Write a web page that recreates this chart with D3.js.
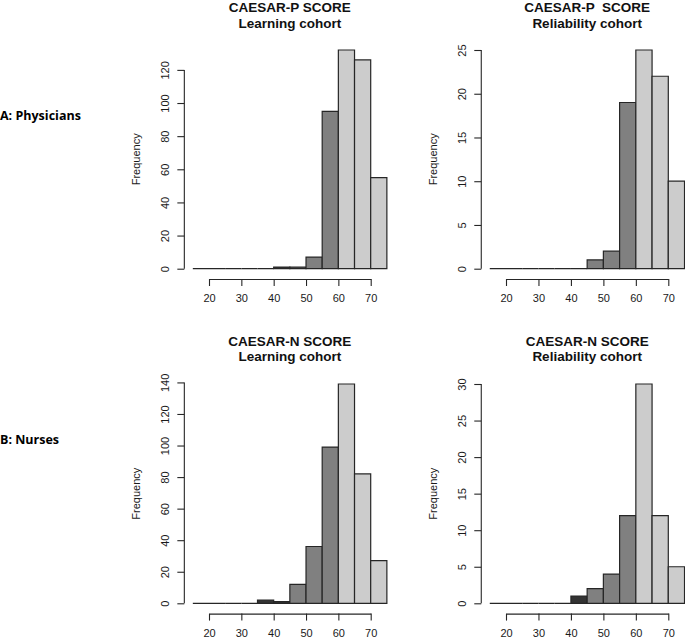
<!DOCTYPE html>
<html>
<head>
<meta charset="utf-8">
<script src="https://cdnjs.cloudflare.com/ajax/libs/d3/7.8.5/d3.min.js"></script>
<style>
  html, body { margin: 0; padding: 0; background: #fff; }
  svg { display: block; }
</style>
</head>
<body>
<svg id="chart" width="685" height="639"></svg>
<script>
// ---- data ----
const binEdges = [15, 20, 25, 30, 35, 40, 45, 50, 55, 60, 65, 70, 75];
const xTicks = [20, 30, 40, 50, 60, 70];
const physLearning    = [0, 0, 0, 0, 0, 1, 1, 7, 95, 132, 126, 55];
const physReliability = [0, 0, 0, 0, 0, 0, 1, 2, 19, 25, 22, 10];
const nurseLearning    = [0, 0, 0, 0, 2, 1, 12, 36, 99, 139, 82, 27];
const nurseReliability = [0, 0, 0, 0, 0, 1, 2, 4, 12, 30, 12, 5];
const titlesLine1 = ["CAESAR-P SCORE", "CAESAR-P  SCORE", "CAESAR-N SCORE", "CAESAR-N SCORE"];
const titlesLine2 = ["Learning cohort", "Reliability cohort", "Learning cohort", "Reliability cohort"];
const rowLabels = ["A: Physicians", "B: Nurses"];
const yTickSteps = [20, 5, 20, 5];
const yLabel = "Frequency";

// ---- layout ----
const svg = d3.select("#chart");
const colX = [[209, 370.7], [506, 668.3]];       // pixel of x=20 and x=70
const rowY = [[268.7, 50], [603.3, 384]];         // pixel of y=0 and y=max
const titleBase = [[12.3, 27.7], [345.5, 361]];
const rowLabelBase = [120, 444];

const darkFill = "#333333", midFill = "#808080", lightFill = "#cccccc";
function fillFor(start) {
  if (start < 45) return darkFill;
  if (start < 60) return midFill;
  return lightFill;
}

const panels = [
  { counts: physLearning, col: 0, row: 0 },
  { counts: physReliability, col: 1, row: 0 },
  { counts: nurseLearning, col: 0, row: 1 },
  { counts: nurseReliability, col: 1, row: 1 }
];

const stroke = "#262626";
const fontFam = "'Liberation Sans', Arial, Helvetica, sans-serif";

panels.forEach((p, i) => {
  const x = d3.scaleLinear().domain([20, 70]).range(colX[p.col]);
  const maxC = d3.max(p.counts);
  const y = d3.scaleLinear().domain([0, maxC]).range(rowY[p.row]);
  const g = svg.append("g");

  const bins = p.counts.map((c, k) => ({ x0: binEdges[k], x1: binEdges[k + 1], c }));

  g.selectAll("path.bar").data(bins).enter().append("path")
    .attr("class", "bar")
    .attr("d", d => `M${x(d.x0)},${y(0)}V${y(d.c)}H${x(d.x1)}V${y(0)}Z`)
    .attr("fill", d => fillFor(d.x0))
    .attr("stroke", stroke)
    .attr("stroke-width", 1.2);

  // x axis
  const xAxisY = y(0) + 10.3;
  const xa = g.append("g")
    .attr("transform", `translate(0,${xAxisY})`)
    .call(d3.axisBottom(x).tickValues(xTicks).tickSize(7).tickSizeOuter(0));
  xa.select(".domain").attr("stroke", stroke).attr("stroke-width", 1.1);
  xa.selectAll(".tick line").attr("stroke", stroke).attr("stroke-width", 1.1);
  xa.selectAll(".tick text")
    .attr("y", 23).attr("dy", 0)
    .attr("fill", "#1a1a1a")
    .style("font-family", fontFam).style("font-size", "11px");

  // y axis (ticks up to the 4%-extended range, as in R)
  const step = yTickSteps[i];
  const yTicks = d3.range(0, maxC * 1.04 + 0.001, step);
  const ya = g.append("g")
    .attr("transform", `translate(${x(15) - 8.5},0)`)
    .call(d3.axisLeft(y).tickValues(yTicks).tickSize(7));
  ya.select(".domain").remove();
  ya.append("line")
    .attr("x1", 0).attr("x2", 0)
    .attr("y1", y(0)).attr("y2", y(yTicks[yTicks.length - 1]))
    .attr("stroke", stroke).attr("stroke-width", 1.1);
  ya.selectAll(".tick line").attr("stroke", stroke).attr("stroke-width", 1.1);
  ya.selectAll(".tick text")
    .attr("x", 0).attr("y", 0).attr("dy", 0)
    .attr("transform", "translate(-15,0) rotate(-90)")
    .attr("text-anchor", "middle")
    .attr("fill", "#1a1a1a")
    .style("font-family", fontFam).style("font-size", "11px");

  // y label
  const yMid = (rowY[p.row][0] + rowY[p.row][1]) / 2;
  g.append("text")
    .attr("transform", `translate(${x(15) - 8.5 - 44},${yMid}) rotate(-90)`)
    .attr("text-anchor", "middle")
    .attr("fill", "#1a1a1a")
    .style("font-family", fontFam).style("font-size", "11px")
    .text(yLabel);

  // titles
  const cx = x(45);
  g.append("text")
    .attr("x", cx).attr("y", titleBase[p.row][0])
    .attr("text-anchor", "middle")
    .style("font-family", fontFam).style("font-size", "13.5px").style("font-weight", "bold")
    .style("white-space", "pre")
    .attr("fill", "#111")
    .text(titlesLine1[i]);
  g.append("text")
    .attr("x", cx).attr("y", titleBase[p.row][1])
    .attr("text-anchor", "middle")
    .style("font-family", fontFam).style("font-size", "13.5px").style("font-weight", "bold")
    .attr("fill", "#111")
    .text(titlesLine2[i]);
});

// row labels
svg.selectAll("text.rowlab").data(rowLabels).enter().append("text")
  .attr("class", "rowlab")
  .attr("x", 0)
  .attr("y", (d, k) => rowLabelBase[k])
  .style("font-family", "'Open Sans', Lato, sans-serif")
  .style("font-size", "12.5px").style("font-weight", "bold")
  .attr("fill", "#000")
  .text(d => d);
</script>
</body>
</html>
